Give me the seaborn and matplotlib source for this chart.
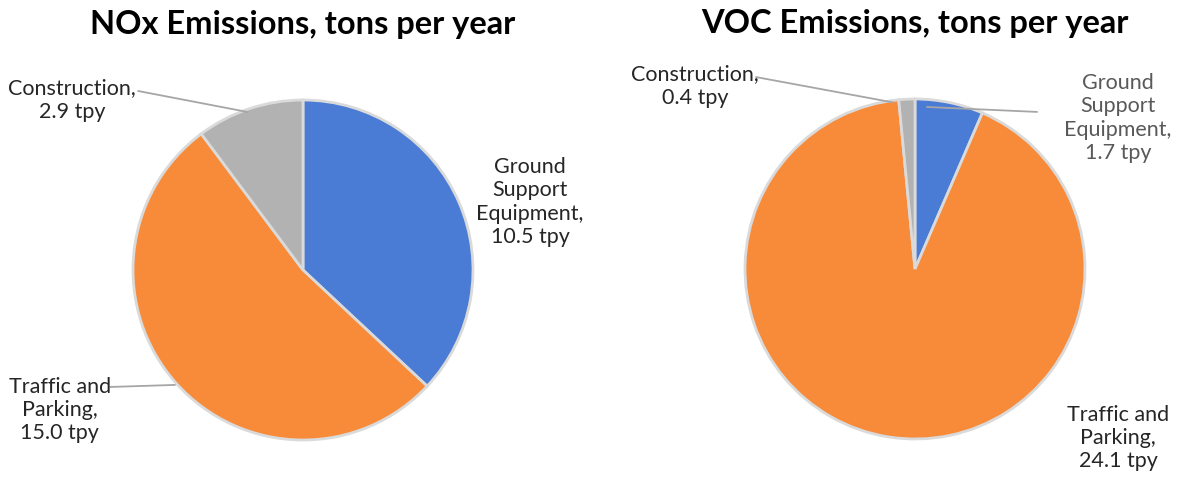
import matplotlib
matplotlib.use("Agg")
import matplotlib.pyplot as plt
import seaborn as sns

categories = ["Ground Support Equipment", "Traffic and Parking", "Construction"]
nox_values = [10.5, 15.0, 2.9]
voc_values = [1.7, 24.1, 0.4]
titles = ["NOx Emissions, tons per year", "VOC Emissions, tons per year"]

sns.set_theme(style="white")
plt.rcParams["font.family"] = ["Lato", "DejaVu Sans"]
colors = sns.color_palette(["#4A7BD5", "#F88B3A", "#B2B2B2"])

W, H = 1180, 481
fig = plt.figure(figsize=(W / 100, H / 100), dpi=100)
fig.patch.set_facecolor("white")


def make_ax(cx, cy, r):
    return fig.add_axes([(cx - r) / W, (H - cy - r) / H, 2 * r / W, 2 * r / H])


def draw(ax, values, title, labels, leaders):
    ax.pie(values, colors=colors, startangle=90, counterclock=False, radius=1,
           wedgeprops=dict(edgecolor="#DADADA", linewidth=2.0))
    ax.set_xlim(-1, 1)
    ax.set_ylim(-1, 1)
    ax.set_aspect("equal")
    ax.axis("off")
    for (x, y, txt, col) in labels:
        ax.text(x, y, txt, ha="center", va="center", fontsize=15.5,
                color=col, linespacing=1.2, clip_on=False)
    for (x0, y0, x1, y1) in leaders:
        ax.plot([x0, x1], [y0, y1], color="#A6A6A6", lw=1.3, clip_on=False)


ax1 = make_ax(303, 271, 170)
ax1.text(0, 1.45, titles[0], ha="center", va="center", fontsize=23.5,
         fontweight="bold", color="black", clip_on=False)
draw(ax1, nox_values, titles[0],
     [(-1.36, 1.006, f"Construction,\n{nox_values[2]:.1f} tpy", "#262626"),
      (1.335, 0.406, f"Ground\nSupport\nEquipment,\n{nox_values[0]:.1f} tpy", "#262626"),
      (-1.43, -0.818, f"Traffic and\nParking,\n{nox_values[1]:.1f} tpy", "#262626")],
     [(-0.97, 1.053, -0.324, 0.929),
      (-1.135, -0.688, -0.753, -0.676)])

ax2 = make_ax(915, 270, 170)
ax2.text(0, 1.45, titles[1], ha="center", va="center", fontsize=23.5,
         fontweight="bold", color="black", clip_on=False)
draw(ax2, voc_values, titles[1],
     [(-1.294, 1.082, f"Construction,\n{voc_values[2]:.1f} tpy", "#262626"),
      (1.194, 0.894, f"Ground\nSupport\nEquipment,\n{voc_values[0]:.1f} tpy", "#595959"),
      (1.194, -0.988, f"Traffic and\nParking,\n{voc_values[1]:.1f} tpy", "#262626")],
     [(-0.935, 1.129, -0.13, 0.98),
      (0.07, 0.953, 0.718, 0.924)])

fig.savefig("out.png", dpi=100, facecolor="white")
